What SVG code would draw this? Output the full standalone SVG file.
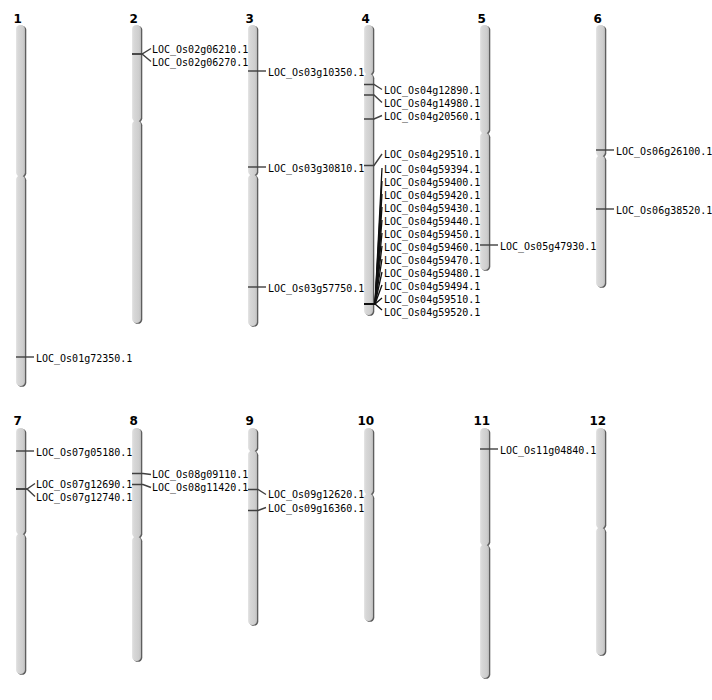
<svg xmlns="http://www.w3.org/2000/svg" width="712" height="700" viewBox="0 0 712 700">
<defs>
<linearGradient id="body" x1="0" y1="0" x2="1" y2="0">
<stop offset="0" stop-color="#e6e6e6"/>
<stop offset="0.2" stop-color="#d8d8d8"/>
<stop offset="0.8" stop-color="#cdcdcd"/>
<stop offset="1" stop-color="#b8b8b8"/>
</linearGradient>
</defs>
<style>
.sh{fill:#5e5e5e}
.arm{fill:url(#body)}
.num{font-family:"DejaVu Sans",sans-serif;font-weight:bold;font-size:12px;fill:#000}
.lbl{font-family:"DejaVu Sans Mono",monospace;font-size:10px;fill:#000}
.mk{stroke:#404040;stroke-width:1.4;fill:none}
.cl{stroke:#111;stroke-width:1.3;fill:none}
</style>
<rect width="712" height="700" fill="#fff"/>

<g id="chr1">
<rect class="sh" x="17.3" y="25.8" width="9" height="151.5" rx="4.5" ry="4"/>
<rect class="sh" x="17.3" y="176.3" width="9" height="210.5" rx="4.5" ry="4"/>
<rect class="arm" x="16" y="25" width="9" height="151.5" rx="4.5" ry="4"/>
<rect class="arm" x="16" y="175.5" width="9" height="210.5" rx="4.5" ry="4"/>
<text class="num" x="13.5" y="22.7">1</text>
</g>
<g id="chr2">
<rect class="sh" x="133.3" y="25.8" width="9" height="96.5" rx="4.5" ry="4"/>
<rect class="sh" x="133.3" y="121.3" width="9" height="202.5" rx="4.5" ry="4"/>
<rect class="arm" x="132" y="25" width="9" height="96.5" rx="4.5" ry="4"/>
<rect class="arm" x="132" y="120.5" width="9" height="202.5" rx="4.5" ry="4"/>
<text class="num" x="129.5" y="22.7">2</text>
</g>
<g id="chr3">
<rect class="sh" x="249.3" y="25.8" width="9" height="150.5" rx="4.5" ry="4"/>
<rect class="sh" x="249.3" y="175.3" width="9" height="151.5" rx="4.5" ry="4"/>
<rect class="arm" x="248" y="25" width="9" height="150.5" rx="4.5" ry="4"/>
<rect class="arm" x="248" y="174.5" width="9" height="151.5" rx="4.5" ry="4"/>
<text class="num" x="245.5" y="22.7">3</text>
</g>
<g id="chr4">
<rect class="sh" x="365.3" y="25.8" width="9" height="49.5" rx="4.5" ry="4"/>
<rect class="sh" x="365.3" y="74.3" width="9" height="241.5" rx="4.5" ry="4"/>
<rect class="arm" x="364" y="25" width="9" height="49.5" rx="4.5" ry="4"/>
<rect class="arm" x="364" y="73.5" width="9" height="241.5" rx="4.5" ry="4"/>
<text class="num" x="361.5" y="22.7">4</text>
</g>
<g id="chr5">
<rect class="sh" x="481.3" y="25.8" width="9" height="108.5" rx="4.5" ry="4"/>
<rect class="sh" x="481.3" y="133.3" width="9" height="137.5" rx="4.5" ry="4"/>
<rect class="arm" x="480" y="25" width="9" height="108.5" rx="4.5" ry="4"/>
<rect class="arm" x="480" y="132.5" width="9" height="137.5" rx="4.5" ry="4"/>
<text class="num" x="477.5" y="22.7">5</text>
</g>
<g id="chr6">
<rect class="sh" x="597.3" y="25.8" width="9" height="131.5" rx="4.5" ry="4"/>
<rect class="sh" x="597.3" y="156.3" width="9" height="131.5" rx="4.5" ry="4"/>
<rect class="arm" x="596" y="25" width="9" height="131.5" rx="4.5" ry="4"/>
<rect class="arm" x="596" y="155.5" width="9" height="131.5" rx="4.5" ry="4"/>
<text class="num" x="593.5" y="22.7">6</text>
</g>
<g id="chr7">
<rect class="sh" x="17.3" y="428.8" width="9" height="106.5" rx="4.5" ry="4"/>
<rect class="sh" x="17.3" y="534.3" width="9" height="140.5" rx="4.5" ry="4"/>
<rect class="arm" x="16" y="428" width="9" height="106.5" rx="4.5" ry="4"/>
<rect class="arm" x="16" y="533.5" width="9" height="140.5" rx="4.5" ry="4"/>
<text class="num" x="13.5" y="424.5">7</text>
</g>
<g id="chr8">
<rect class="sh" x="133.3" y="428.8" width="9" height="109.5" rx="4.5" ry="4"/>
<rect class="sh" x="133.3" y="537.3" width="9" height="124.5" rx="4.5" ry="4"/>
<rect class="arm" x="132" y="428" width="9" height="109.5" rx="4.5" ry="4"/>
<rect class="arm" x="132" y="536.5" width="9" height="124.5" rx="4.5" ry="4"/>
<text class="num" x="129.5" y="424.5">8</text>
</g>
<g id="chr9">
<rect class="sh" x="249.3" y="428.8" width="9" height="23.5" rx="4.5" ry="4"/>
<rect class="sh" x="249.3" y="451.3" width="9" height="174.5" rx="4.5" ry="4"/>
<rect class="arm" x="248" y="428" width="9" height="23.5" rx="4.5" ry="4"/>
<rect class="arm" x="248" y="450.5" width="9" height="174.5" rx="4.5" ry="4"/>
<text class="num" x="245.5" y="424.5">9</text>
</g>
<g id="chr10">
<rect class="sh" x="365.3" y="428.8" width="9" height="66.5" rx="4.5" ry="4"/>
<rect class="sh" x="365.3" y="494.3" width="9" height="127.5" rx="4.5" ry="4"/>
<rect class="arm" x="364" y="428" width="9" height="66.5" rx="4.5" ry="4"/>
<rect class="arm" x="364" y="493.5" width="9" height="127.5" rx="4.5" ry="4"/>
<text class="num" x="357.5" y="424.5">10</text>
</g>
<g id="chr11">
<rect class="sh" x="481.3" y="428.8" width="9" height="117.5" rx="4.5" ry="4"/>
<rect class="sh" x="481.3" y="545.3" width="9" height="133.5" rx="4.5" ry="4"/>
<rect class="arm" x="480" y="428" width="9" height="117.5" rx="4.5" ry="4"/>
<rect class="arm" x="480" y="544.5" width="9" height="133.5" rx="4.5" ry="4"/>
<text class="num" x="473.5" y="424.5">11</text>
</g>
<g id="chr12">
<rect class="sh" x="597.3" y="428.8" width="9" height="100.5" rx="4.5" ry="4"/>
<rect class="sh" x="597.3" y="528.3" width="9" height="127.5" rx="4.5" ry="4"/>
<rect class="arm" x="596" y="428" width="9" height="100.5" rx="4.5" ry="4"/>
<rect class="arm" x="596" y="527.5" width="9" height="127.5" rx="4.5" ry="4"/>
<text class="num" x="589.5" y="424.5">12</text>
</g>

<g id="connectors">
<path class="mk" d="M16,357H34"/>
<path class="mk" d="M132,54H142L151,48.5"/>
<path class="mk" d="M132,54H142L151,61.5"/>
<path class="mk" d="M248,71H266"/>
<path class="mk" d="M248,167H266"/>
<path class="mk" d="M248,287H266"/>
<path class="mk" d="M364,84.5H374L382,89.5"/>
<path class="mk" d="M364,95H374L382,102.5"/>
<path class="mk" d="M364,119H374L382,115.5"/>
<path class="mk" d="M364,165.5H374L382,154"/>
<path class="cl" d="M364,304H375L382,168"/>
<path class="cl" d="M364,304H375L382,181"/>
<path class="cl" d="M364,304H375L382,194"/>
<path class="cl" d="M364,304H375L382,207"/>
<path class="cl" d="M364,304H375L382,220"/>
<path class="cl" d="M364,304H375L382,233"/>
<path class="cl" d="M364,304H375L382,246"/>
<path class="cl" d="M364,304H375L382,259"/>
<path class="cl" d="M364,304H375L382,272"/>
<path class="cl" d="M364,304H375L382,285"/>
<path class="cl" d="M364,304H375L382,298"/>
<path class="cl" d="M364,304H375L382,310"/>
<path class="mk" d="M480,245H498"/>
<path class="mk" d="M596,150H614"/>
<path class="mk" d="M596,209H614"/>
<path class="mk" d="M16,451H34"/>
<path class="mk" d="M16,489H27L35,483.5"/>
<path class="mk" d="M16,489H27L35,496.5"/>
<path class="mk" d="M132,473.5H143L151,474.5"/>
<path class="mk" d="M132,484.5H143L151,487.5"/>
<path class="mk" d="M248,489.5H258L266,494.5"/>
<path class="mk" d="M248,510.5H258L266,507.5"/>
<path class="mk" d="M480,449H498"/>
</g>

<g id="gene-labels">
<text class="lbl" x="36" y="361.5">LOC_Os01g72350.1</text>
<text class="lbl" x="152" y="53">LOC_Os02g06210.1</text>
<text class="lbl" x="152" y="66">LOC_Os02g06270.1</text>
<text class="lbl" x="268" y="75.5">LOC_Os03g10350.1</text>
<text class="lbl" x="268" y="171.5">LOC_Os03g30810.1</text>
<text class="lbl" x="268" y="291.5">LOC_Os03g57750.1</text>
<text class="lbl" x="384" y="94">LOC_Os04g12890.1</text>
<text class="lbl" x="384" y="107">LOC_Os04g14980.1</text>
<text class="lbl" x="384" y="119.5">LOC_Os04g20560.1</text>
<text class="lbl" x="384" y="158">LOC_Os04g29510.1</text>
<text class="lbl" x="384" y="172.7">LOC_Os04g59394.1</text>
<text class="lbl" x="384" y="185.7">LOC_Os04g59400.1</text>
<text class="lbl" x="384" y="198.7">LOC_Os04g59420.1</text>
<text class="lbl" x="384" y="211.7">LOC_Os04g59430.1</text>
<text class="lbl" x="384" y="224.7">LOC_Os04g59440.1</text>
<text class="lbl" x="384" y="237.7">LOC_Os04g59450.1</text>
<text class="lbl" x="384" y="250.7">LOC_Os04g59460.1</text>
<text class="lbl" x="384" y="263.7">LOC_Os04g59470.1</text>
<text class="lbl" x="384" y="276.7">LOC_Os04g59480.1</text>
<text class="lbl" x="384" y="289.7">LOC_Os04g59494.1</text>
<text class="lbl" x="384" y="302.7">LOC_Os04g59510.1</text>
<text class="lbl" x="384" y="315.7">LOC_Os04g59520.1</text>
<text class="lbl" x="500" y="249.5">LOC_Os05g47930.1</text>
<text class="lbl" x="616" y="154.5">LOC_Os06g26100.1</text>
<text class="lbl" x="616" y="213.5">LOC_Os06g38520.1</text>
<text class="lbl" x="36" y="456">LOC_Os07g05180.1</text>
<text class="lbl" x="36" y="487.7">LOC_Os07g12690.1</text>
<text class="lbl" x="36" y="501">LOC_Os07g12740.1</text>
<text class="lbl" x="152" y="478.3">LOC_Os08g09110.1</text>
<text class="lbl" x="152" y="491.3">LOC_Os08g11420.1</text>
<text class="lbl" x="268" y="498.3">LOC_Os09g12620.1</text>
<text class="lbl" x="268" y="511.5">LOC_Os09g16360.1</text>
<text class="lbl" x="500" y="453.8">LOC_Os11g04840.1</text>
</g>
</svg>
